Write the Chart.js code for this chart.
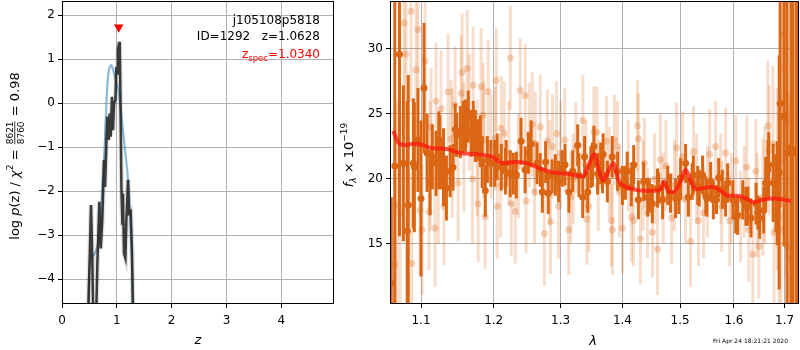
<!DOCTYPE html>
<html><head><meta charset="utf-8">
<script src="https://cdn.jsdelivr.net/npm/chart.js@4.4.0/dist/chart.umd.min.js"></script>
<style>
html,body{margin:0;padding:0;background:#fff;}
#wrap{position:relative;width:800px;height:350px;}
#pz{position:absolute;left:0;top:0;width:340px;height:350px;}
#sp{position:absolute;left:340px;top:0;width:460px;height:350px;}
</style></head><body>
<div id="wrap">
<canvas id="pz" width="340" height="350"></canvas>
<canvas id="sp" width="460" height="350"></canvas>
</div>
<script>
// p(z) panel
const zTicks=[0,1,2,3,4];
const pTicks=[-4,-3,-2,-1,0,1,2];
const zBlue=[0.475,0.498,0.542,0.628,0.688,0.737,0.779,0.810,0.839,0.870,0.901,0.930,0.979,1.040,1.084,1.144,1.204,1.235,1.266,1.285,1.310];
const pBlue=[-4.8,-3.79,-3.52,-3.33,-2.95,-1.90,-0.99,0.01,0.60,0.83,0.87,0.76,0.53,0.23,-0.30,-0.99,-1.74,-2.35,-3.26,-4.02,-4.8];
const zDark=[0.475,0.529,0.553,0.571,0.620,0.645,0.681,0.706,0.735,0.766,0.785,0.810,0.828,0.852,0.870,0.888,0.912,0.930,0.949,0.974,0.992,1.010,1.021,1.040,1.052,1.065,1.083,1.101,1.112,1.131,1.156,1.174,1.204,1.222,1.253,1.277,1.295];
const pDark=[-5,-2.31,-3.56,-5,-5,-3.64,-2.24,-3.30,-2.65,-1.29,-1.90,-0.87,-0.30,-0.83,-0.23,-0.76,0.15,-0.61,0.0,0.08,0.83,0.68,1.21,1.36,1.40,0.23,-1.90,-2.73,-2.05,-3.41,-3.52,-2.65,-1.74,-2.50,-2.46,-3.41,-5];
const zSpec=[1.034];
const pSpec=[1.73];

// spectrum panel
const lamTicks=[1.1,1.2,1.3,1.4,1.5,1.6,1.7];
const fluxTicks=[15,20,25,30];
const lamDark=[1.0615,1.072,1.077,1.082,1.090,1.096,1.100,1.104,1.108,1.112,1.115,
1.120,1.125,1.127,1.134,1.139,1.146,1.153,1.157,1.160,1.164,
1.171,1.174,1.181,1.188,1.191,1.196,1.205,1.211,1.217,1.224,
1.233,1.240,1.246,1.255,1.264,1.272,1.277,1.281,1.292,1.297,
1.307,1.313,1.319,1.327,1.335,1.338,1.343,1.348,1.353,1.359,
1.364,1.368,1.375,1.383,1.392,1.400,1.408,1.415,1.419,1.427,
1.436,1.443,1.451,1.460,1.469,1.478,1.492,1.501,1.510,1.515,
1.524,1.532,1.541,1.547,1.556,1.561,1.571,1.578,1.588,1.598,
1.607,1.617,1.623,1.633,1.643,1.650,1.658,1.662,1.668,1.677,
1.685,1.691,1.699,1.713,1.724,
1.066,1.0833,1.0913,1.1237,1.130,1.143,1.148,1.1605,1.1683,1.177,
1.1836,1.2015,1.218,1.2285,1.251,1.2688,1.287,1.3025,1.329,1.3507,
1.367,1.405,1.446,1.462,1.483,1.4976,1.522,1.535,1.549,1.5669,
1.584,1.6034,1.627,1.6465,1.6665,1.6826,1.689,1.705,1.717,1.727];
const fluxDark=[12.0,29.6,21.2,16.0,21.2,23.0,18.5,27.0,22.0,19.7,21.7,
21.2,22.9,21.2,19.3,20.6,23.8,23.6,24.0,24.1,24.8,
24.0,23.3,22.9,19.1,21.5,21.2,21.7,20.9,20.6,20.4,
20.3,22.9,20.7,22.7,21.2,19.0,21.3,18.9,20.3,19.8,
21.1,19.0,20.6,22.6,18.6,21.7,19.0,20.9,22.5,20.4,
21.2,21.9,19.8,21.7,20.6,19.5,20.6,19.4,21.1,18.4,
19.8,18.6,18.1,19.3,18.4,19.5,18.5,20.1,21.2,18.6,
20.3,19.5,20.3,18.7,19.8,18.4,20.1,19.2,19.7,18.4,
17.2,18.4,17.9,17.0,18.1,17.0,17.6,19.7,21.1,19.7,
18.9,25.8,24.8,22.4,22.2,
21.0,18.0,20.9,22.2,20.9,20.9,23.4,24.0,23.5,23.0,
21.3,21.2,21.2,20.4,22.0,20.7,20.2,20.8,20.3,21.1,
20.3,19.7,18.7,19.3,18.9,18.6,19.8,19.3,18.5,18.4,
18.4,17.1,17.9,17.4,20.7,18.9,20.5,22.0,22.0,22.0];
const errDark=[6.6,14,6,10,5,4,6,5,3,2.5,2.5,
2.5,2,2,2.5,2,2,2,2,2,2,
2,2,2,2,1.8,1.8,1.8,1.8,1.8,1.8,
1.8,1.8,1.8,1.8,1.6,1.6,1.6,1.6,1.6,1.6,
1.6,1.6,1.6,1.6,1.6,1.6,1.6,1.6,1.6,1.6,
1.6,1.6,1.6,1.6,1.5,1.5,1.5,1.5,1.5,1.5,
1.5,1.5,1.5,1.5,1.5,1.5,1.5,1.5,1.5,1.5,
1.5,1.5,1.5,1.5,1.5,1.5,1.5,1.5,1.5,1.5,
1.5,1.5,1.5,1.5,1.6,1.6,1.8,2,2.5,3,
4,8,10,15,15,
15,10,5,3,3,1.8,1.7,1.6,1.8,1.6,
2,1.8,1.8,1.6,1.6,1.3,1.3,1.4,1.7,1.7,
1.4,1.3,1.3,1.2,1.5,1.3,1.4,1.4,1.4,1.1,
1.3,1.3,1.5,1.3,2.3,3,9,20,20,20];
const lamLight=[1.0659,1.0688,1.0727,1.0778,1.0804,1.0869,1.0880,1.0935,1.0961,1.0987,
1.1014,1.1054,1.1106,1.1133,1.1187,1.1200,1.1267,1.1308,1.1362,1.1403,
1.1458,1.1500,1.1542,1.1555,1.1626,1.1654,1.1708,1.1765,1.1779,1.1821,
1.1850,1.1878,1.1921,1.1964,1.2022,1.2036,1.2051,1.2109,1.2153,1.2241,
1.2256,1.2314,1.2387,1.2463,1.2475,1.2523,1.2568,1.2613,1.2688,1.2750,
1.2797,1.2844,1.2875,1.2938,1.2969,1.3066,1.3128,1.3160,1.3240,1.3352,
1.3416,1.3449,1.3529,1.3578,1.3734,1.3816,1.3833,1.3866,1.3916,1.4000,
1.4152,1.4186,1.4254,1.4270,1.4305,1.4374,1.4426,1.4513,1.4600,1.4652,
1.4750,1.4850,1.4936,1.5045,1.5190,1.5244,1.5336,1.5429,1.5540,1.5653,
1.5766,1.5842,1.5918,1.6034,1.6128,1.6248,1.6288,1.6366,1.6425,1.6484,
1.6564,1.6664,1.6684,1.6765,1.6785,1.6886,1.6927,1.6968,1.6988,1.7029,
1.7070,1.7091,
1.112,1.123,1.142,1.158,1.170,1.186,1.210,1.222,1.236,1.260,
1.283,1.300,1.320,1.340,1.360,1.378,1.395,1.410,1.435,1.455,
1.470,1.490,1.510,1.530,1.550,1.575,1.595,1.620,1.645,1.660,1.685];
const fluxLight=[13.4,18.0,17.4,32.0,29.6,32.9,13.5,28.4,31.5,17.6,
16.1,29.1,17.5,24.0,16.2,26.0,25.4,17.9,26.7,23.1,
25.7,19.7,26.6,28.2,28.5,25.1,27.2,21.6,18.1,27.1,
24.9,17.1,26.7,22.5,23.1,27.6,17.9,23.9,23.5,29.3,
18.1,17.5,26.8,26.4,18.3,23.4,24.2,22.7,24.0,15.8,
22.9,16.7,22.5,23.5,17.9,23.0,16.1,18.6,22.4,24.5,
16.9,17.9,23.6,23.6,22.9,16.8,16.1,23.0,22.5,16.2,
17.1,16.8,24.1,23.1,15.4,21.2,17.4,15.9,14.6,21.5,
21.0,17.0,22.4,21.7,15.2,22.1,16.8,17.4,21.9,22.5,
17.9,22.0,16.8,21.4,17.1,20.9,16.1,14.2,20.6,14.8,
18.6,24.1,22.2,22.7,15.9,17.1,16.1,31.1,28.5,24.4,
14.7,13.9,
21.0,20.0,22.0,22.5,20.0,23.0,19.5,22.0,21.0,19.0,
20.5,22.0,20.0,21.0,19.5,20.5,19.0,21.0,19.5,20.0,
18.5,19.5,18.5,20.0,19.0,20.0,18.5,19.0,18.0,19.5,20.0];
const errLight=[9,8,8,8,7,7,7,6,6,5,
5,5,4.5,4.5,4.5,4.5,4.5,4.5,4.5,4.5,
4.5,4.5,4.5,4.5,4.5,4.5,4.5,4.5,4.5,4.5,
4,4,4,4,4,4,4,4,4,4,
4,4,4,4,4,4,4,4,4,4,
4,4,4,4,4,4,3.5,3.5,3.5,3.5,
3.5,3.5,3.5,3.5,3.5,3.5,3.5,3.5,3.5,3.5,
3.5,3.5,3.5,3.5,3.5,3.5,3.5,3.5,3.5,3.5,
3.5,3.5,3.5,3.5,3.5,3.5,3.5,3.5,3.5,3.5,
3.5,3.5,3.5,3.5,3.5,4,4,4,4,4,
4.5,5,5,6,6,8,9,10,10,12,
12,12,
5,5,5,5,5,4.5,4,4,4,4,
4,4,3.5,3.5,3.5,3.5,3.5,3.5,3.5,3.5,
3.5,3.5,3.5,3.5,3.5,3.5,3.5,3.5,4,4.5,7];
const lamModel=[1.0641,1.0705,1.0792,1.0895,1.1027,1.1119,1.1349,1.1528,1.1765,1.1978,
1.2138,1.2285,1.2493,1.2688,1.2888,1.3112,1.3360,1.3440,1.3537,1.3602,
1.3684,1.3766,1.3849,1.3932,1.4050,1.4186,1.4357,1.4565,1.4652,1.4723,
1.4793,1.4882,1.5008,1.5099,1.5189,1.5281,1.5429,1.5596,1.5746,1.5899,
1.6073,1.6229,1.6386,1.6564,1.6785,1.6988,1.7132];
const fluxModel=[23.7,22.8,22.6,22.7,22.6,22.4,22.3,22.0,21.9,21.7,
21.2,21.3,21.2,20.8,20.5,20.4,20.2,21.0,21.9,20.8,
19.9,20.6,21.2,19.9,19.4,19.2,19.1,19.1,19.2,19.8,
19.0,19.0,19.8,20.7,19.9,19.2,19.3,19.4,19.1,18.7,
18.7,18.5,18.2,18.4,18.5,18.4,18.3];

const FF='"DejaVu Sans"';
Chart.defaults.font.family=FF;
Chart.defaults.font.size=12;
Chart.defaults.color='#000';

const xy=(xs,ys)=>xs.map((v,i)=>({x:v,y:ys[i]}));
const minus=v=>String(v).replace('-','\u2212');

const errBars={id:'errBars',beforeDatasetDraw(chart,args){
  const ds=chart.data.datasets[args.index];
  if(!ds.err) return;
  const {ctx,chartArea:a,scales:{x,y}}=chart;
  ctx.save();
  ctx.beginPath();ctx.rect(a.left,a.top,a.right-a.left,a.bottom-a.top);ctx.clip();
  ctx.strokeStyle=ds.errColor;ctx.lineWidth=ds.errWidth;
  ds.data.forEach((p,i)=>{
    const px=x.getPixelForValue(p.x);
    ctx.beginPath();
    ctx.moveTo(px,y.getPixelForValue(p.y-ds.err[i]));
    ctx.lineTo(px,y.getPixelForValue(p.y+ds.err[i]));
    ctx.stroke();
  });
  ctx.restore();
}};

const frame={id:'frame',afterDatasetsDraw(chart){
  const {ctx,chartArea:a}=chart;
  ctx.save();ctx.strokeStyle='#000';ctx.lineWidth=1;
  ctx.strokeRect(Math.round(a.left)+0.5,Math.round(a.top)+0.5,Math.round(a.right-a.left)-1,Math.round(a.bottom-a.top)-1);
  ctx.restore();
}};

// rich text: parts drawn in a row, optional rotation
function partW(ctx,p){
  ctx.font=p.font;
  if(p.frac) return Math.max(ctx.measureText(p.num).width,ctx.measureText(p.den).width)+2;
  return ctx.measureText(p.t).width;
}
function drawRich(ctx,parts,cx,cy,rot,align){
  ctx.save();ctx.translate(cx,cy);ctx.rotate(rot);
  ctx.textBaseline='alphabetic';ctx.textAlign='left';
  let w=0;parts.forEach(p=>w+=partW(ctx,p));
  let x=align==='right'?-w:-w/2;
  parts.forEach(p=>{
    const pw=partW(ctx,p);
    ctx.fillStyle=p.color||'#000';ctx.font=p.font;
    if(p.frac){
      ctx.textAlign='center';
      ctx.fillText(p.num,x+pw/2,-6);
      ctx.fillText(p.den,x+pw/2,5);
      ctx.fillRect(x+1,-4.6,pw-2,0.8);
      ctx.textAlign='left';
    }else ctx.fillText(p.t,x,p.dy||0);
    x+=pw;
  });
  ctx.restore();
}
const N13='13px '+FF, I13='italic 13px '+FF, S9='9px '+FF, SI9='italic 9px '+FF;

const pzText={id:'pzText',afterDraw(chart){
  const ctx=chart.ctx;
  ctx.save();
  ctx.font='12px '+FF;ctx.fillStyle='#000';ctx.textAlign='right';ctx.textBaseline='alphabetic';
  ctx.fillText('j105108p5818',320,24);
  ctx.fillText('ID=1292   z=1.0628',320,40);
  ctx.restore();
  drawRich(ctx,[
    {t:'z',font:'12px '+FF,color:'#f00'},
    {t:'spec',font:'8.5px '+FF,color:'#f00',dy:3},
    {t:'=1.0340',font:'12px '+FF,color:'#f00'}
  ],320,58,0,'right');
  drawRich(ctx,[{t:'z',font:I13}],198,344,0);
  drawRich(ctx,[
    {t:'log ',font:N13},{t:'p',font:I13},{t:'(z) / ',font:N13},
    {t:'\u03c7',font:I13},{t:'2',font:S9,dy:-6},{t:' = ',font:N13},
    {frac:true,num:'8621',den:'8760',font:S9},{t:' = 0.98',font:N13}
  ],19,156,-Math.PI/2);
}};

const spText={id:'spText',afterDraw(chart){
  const ctx=chart.ctx;
  drawRich(ctx,[{t:'\u03bb',font:I13}],253,345,0);
  drawRich(ctx,[
    {t:'f',font:I13},{t:'\u03bb',font:SI9,dy:3},{t:' \u00d7 10',font:N13},{t:'\u221219',font:S9,dy:-6}
  ],13,155,-Math.PI/2);
  ctx.save();ctx.font='6px '+FF;ctx.fillStyle='#000';ctx.textAlign='right';
  ctx.fillText('Fri Apr 24 18:21:21 2020',448,343);
  ctx.restore();
}};

const gridOpt={color:'#b0b0b0',lineWidth:1,tickColor:'#000',tickLength:4};
const noPad=s=>{s.paddingTop=0;s.paddingBottom=0;s.paddingLeft=0;s.paddingRight=0;};

new Chart(document.getElementById('pz'),{
  type:'scatter',
  data:{datasets:[
    {data:xy(zSpec,pSpec),pointStyle:'triangle',rotation:180,radius:5.5,backgroundColor:'#f00',borderColor:'#f00',borderWidth:0,clip:false},
    {data:xy(zDark,pDark),showLine:true,borderColor:'rgba(40,40,40,0.9)',borderWidth:2.5,pointRadius:0,clip:0},
    {data:xy(zDark,pDark),showLine:true,borderColor:'rgba(0,0,0,0.12)',borderWidth:5,pointRadius:0,clip:0},
    {data:xy(zBlue,pBlue),showLine:true,borderColor:'rgba(31,119,180,0.5)',borderWidth:2.2,pointRadius:0,cubicInterpolationMode:'monotone',clip:0}
  ]},
  options:{
    responsive:false,animation:false,
    layout:{autoPadding:false,padding:{left:0,right:6,top:1,bottom:0}},
    plugins:{legend:{display:false},tooltip:{enabled:false}},
    scales:{
      x:{type:'linear',min:0,max:4.96,grid:gridOpt,border:{display:false},
        afterBuildTicks:s=>{s.ticks=zTicks.map(v=>({value:v}));},
        ticks:{padding:6,maxRotation:0,callback:v=>minus(v)},
        afterFit:s=>{s.height=46;noPad(s);}},
      y:{type:'linear',min:-4.56,max:2.325,grid:gridOpt,border:{display:false},
        afterBuildTicks:s=>{s.ticks=pTicks.map(v=>({value:v}));},
        ticks:{padding:3,callback:v=>minus(v)},
        afterFit:s=>{s.width=62;noPad(s);}}
    }
  },
  plugins:[frame,pzText]
});

new Chart(document.getElementById('sp'),{
  type:'scatter',
  data:{datasets:[
    {data:xy(lamModel,fluxModel),showLine:true,borderColor:'rgba(255,20,10,0.72)',borderWidth:4,pointRadius:0,cubicInterpolationMode:'monotone',clip:0},
    {data:xy(lamDark,fluxDark),err:errDark,errColor:'rgb(218,102,20)',errWidth:3,pointRadius:3.5,backgroundColor:'rgb(218,102,20)',borderWidth:0,clip:0},
    {data:xy(lamLight,fluxLight),err:errLight,errColor:'rgba(218,102,20,0.22)',errWidth:3,pointRadius:3.5,backgroundColor:'rgba(218,102,20,0.28)',borderWidth:0,clip:0}
  ]},
  options:{
    responsive:false,animation:false,
    layout:{autoPadding:false,padding:{left:0,right:1,top:1,bottom:0}},
    plugins:{legend:{display:false},tooltip:{enabled:false}},
    scales:{
      x:{type:'logarithmic',min:1.0599,max:1.7296,grid:gridOpt,border:{display:false},
        afterBuildTicks:s=>{s.ticks=lamTicks.map(v=>({value:v}));},
        ticks:{padding:6,maxRotation:0,autoSkip:false,callback:v=>Number(v).toFixed(1)},
        afterFit:s=>{s.height=46;noPad(s);}},
      y:{type:'linear',min:10.38,max:33.69,grid:gridOpt,border:{display:false},
        afterBuildTicks:s=>{s.ticks=fluxTicks.map(v=>({value:v}));},
        ticks:{padding:3},
        afterFit:s=>{s.width=50;noPad(s);}}
    }
  },
  plugins:[errBars,frame,spText]
});
</script>
</body></html>
